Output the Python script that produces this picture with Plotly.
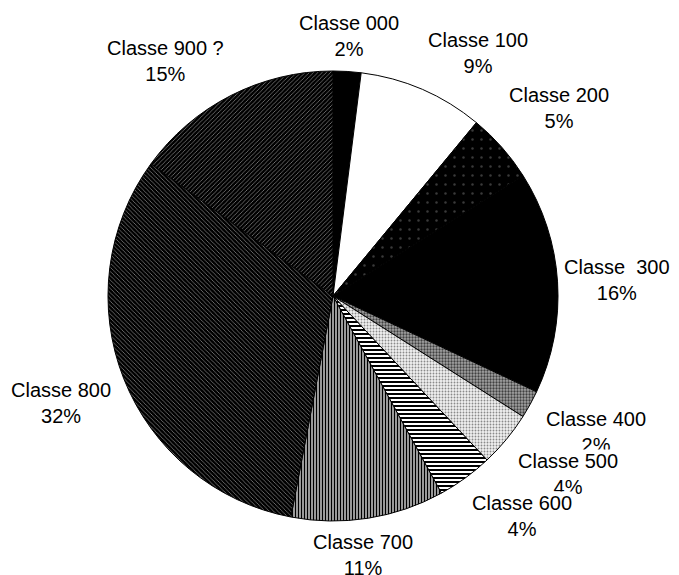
import plotly.graph_objects as go

# Share of items per class (percent)
classes = ["Classe 000", "Classe 100", "Classe 200", "Classe\u00a0 300", "Classe 400",
           "Classe 500", "Classe 600", "Classe 700", "Classe 800", "Classe 900 ?"]
shares = [2, 9, 5, 16, 2, 4, 4, 11, 32, 15]

# Fill styles per slice (monochrome print look)
bg_colors = ["#000000", "#ffffff", "#000000", "#000000", "#a4a4a4",
             "#f0f0f0", "#ffffff", "#ffffff", "#000000", "#000000"]
fg_colors = ["#000000", "#000000", "#3a3a3a", "#000000", "#404040",
             "#8a8a8a", "#000000", "#000000", "#b8b8b8", "#b8b8b8"]
shapes = ["", "", ".", "", ".", ".", "-", "|", "\\", "/"]
pat_sizes = [4, 4, 9, 4, 3, 3, 4, 3, 3, 3]
solidities = [0.3, 0.3, 0.06, 0.3, 0.45, 0.3, 0.5, 0.6, 0.18, 0.18]

# Label anchor points in pixels (centre of each two-line label)
W, H = 679, 575
label_px = [(349, 36), (478, 53), (559, 108), (617, 280), (596, 432),
            (568, 474), (522, 516), (363, 555), (61, 403), (165, 61)]

# Pie placement in pixels
cx, cy, r = 333, 296, 225

fig = go.Figure(go.Pie(
    labels=classes,
    values=shares,
    sort=False,
    direction="clockwise",
    rotation=0,
    textinfo="none",
    hoverinfo="label+percent",
    showlegend=False,
    domain=dict(x=[(cx - r) / W, (cx + r) / W], y=[1 - (cy + r) / H, 1 - (cy - r) / H]),
    marker=dict(
        colors=bg_colors,
        line=dict(color="#000000", width=1),
        pattern=dict(
            shape=shapes,
            fgcolor=fg_colors,
            bgcolor=bg_colors,
            size=pat_sizes,
            solidity=solidities,
            fillmode="replace",
        ),
    ),
))

annotations = []
for name, val, (px, py) in zip(classes, shares, label_px):
    annotations.append(dict(
        x=px / W, y=1 - py / H, xref="paper", yref="paper",
        xanchor="center", yanchor="middle",
        text=f"{name}<br>{val}%",
        showarrow=False,
        align="center",
        bgcolor="#ffffff",
        borderpad=0,
        font=dict(family="Liberation Sans, Arial, sans-serif", size=20, color="#000000"),
    ))

fig.update_layout(
    width=W, height=H,
    margin=dict(l=0, r=0, t=0, b=0),
    paper_bgcolor="#ffffff",
    plot_bgcolor="#ffffff",
    annotations=annotations,
)

fig.write_html("out.html")
